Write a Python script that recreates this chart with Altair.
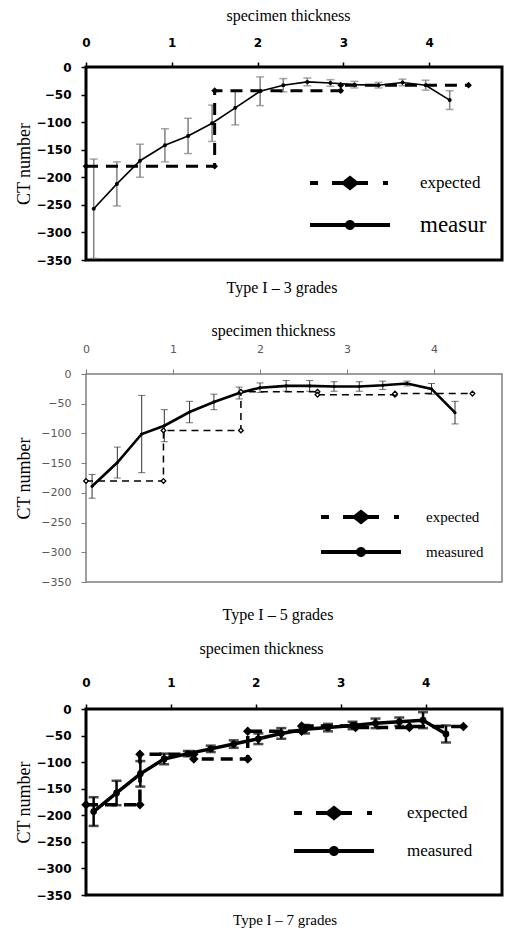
import altair as alt
import pandas as pd

# ---------------- text ----------------
CAPTIONS = ["Type I \u2013 3 grades", "Type I \u2013 5 grades", "Type I \u2013 7 grades"]
X_TITLE = "specimen thickness"
Y_TITLE = "CT number"
SERIES = ["expected", "measured"]
X_TICKS = [0, 1, 2, 3, 4]
Y_TICKS = [0, -50, -100, -150, -200, -250, -300, -350]

# ---------------- data: Type I - 3 grades ----------------
m1_x = [0.09, 0.36, 0.63, 0.92, 1.19, 1.47, 1.74, 2.03, 2.30, 2.58, 2.85, 3.13, 3.41, 3.69, 3.96, 4.24]
m1_y = [-257, -212, -170, -142, -125, -102, -74, -44, -33, -27, -29, -32, -33, -28, -33, -60]
m1_err = [90, 40, 30, 30, 32, 33, 31, 26, 12, 7, 6, 6, 5, 6, 9, 17]
e1_x = [0, 1.5, 1.5, 2.97, 2.97, 4.46]
e1_y = [-180, -180, -43, -43, -33, -33]

# ---------------- data: Type I - 5 grades ----------------
m2_x = [0.07, 0.36, 0.64, 0.90, 1.19, 1.47, 1.76, 2.00, 2.30, 2.57, 2.85, 3.14, 3.41, 3.69, 3.97, 4.24]
m2_y = [-189, -149, -101, -87, -64, -47, -32, -23, -20, -20, -21, -21, -19, -16, -25, -65]
m2_err = [20, 26, 65, 27, 18, 13, 10, 8, 9, 9, 8, 8, 7, 4, 9, 19]
e2_x = [0, 0.89, 0.89, 1.78, 1.78, 2.66, 2.66, 3.55, 3.55, 4.44]
e2_y = [-180, -180, -95, -95, -30, -30, -35, -35, -33, -33]

# ---------------- data: Type I - 7 grades ----------------
m3_x = [0.09, 0.36, 0.64, 0.92, 1.20, 1.47, 1.74, 2.03, 2.30, 2.58, 2.85, 3.14, 3.41, 3.69, 3.97, 4.24]
m3_y = [-193, -158, -122, -94, -84, -75, -66, -56, -46, -38, -35, -31, -27, -24, -21, -47]
m3_err = [27, 23, 24, 10, 5, 6, 7, 10, 10, 8, 7, 7, 9, 8, 15, 16]
e3_x = [0, 0.635, 0.635, 1.27, 1.27, 1.905, 1.905, 2.54, 2.54, 3.175, 3.175, 3.81, 3.81, 4.445]
e3_y = [-180, -180, -85, -85, -94, -94, -42, -42, -32, -32, -35, -35, -33, -33]

# legend symbols (symbol units; 1 unit = 10 px at symbolSize 400)
P_EXP = ("M-4,-0.2H-3.2V0.2H-4Z"
         "M-1.8,-0.2H-0.7L0,-0.75L0.7,-0.2H1.8V0.2H0.7L0,0.75L-0.7,0.2H-1.8Z"
         "M3.3,-0.2H3.8V0.2H3.3Z")
P_MEAS = ("M-4,-0.2H4V0.2H-4Z"
          "M0.5,0A0.5,0.5 0 1,1 -0.5,0A0.5,0.5 0 1,1 0.5,0Z")

SERIF = "Liberation Serif"
W = 416

STYLE1 = dict(xmax=4.85, h=193, frame="black", frame_w=3, tick_c="black", tick_w=1.5,
              lab_font="DejaVu Sans", lab_size=12, lab_weight="bold", lab_c="black",
              xlab_pad=13, ylab_pad=10, xt_size=16, xt_x=202, xt_y=-47, yt_size=18,
              err_c="#808080", err_w=1.5, cap=8, m_w=1.6, m_size=16, e_w=3, e_dash=[12, 8],
              e_size=45, e_filled=True,
              cap_dx=-12, cap_off=14, cap_size=16,
              leg_x=254, leg_y=106, leg_row=23,
              leg_lab="datum.label == 'measured' ? 'measur' : datum.label",
              leg_fs="datum.label == 'measured' ? 23 : 17", leg_off=60)
STYLE2 = dict(xmax=4.78, h=208, frame="#7f7f7f", frame_w=1.5, tick_c="#7f7f7f", tick_w=1,
              lab_font="DejaVu Sans", lab_size=11, lab_weight="normal", lab_c="#595959",
              xlab_pad=15, ylab_pad=10, xt_size=16, xt_x=187, xt_y=-39, yt_size=18,
              err_c="#333333", err_w=1, cap=7, m_w=2.6, m_size=10, e_w=1.5, e_dash=[7, 5],
              e_size=22, e_filled=False,
              cap_dx=-16, cap_off=20, cap_size=16,
              leg_x=265, leg_y=133, leg_row=17, leg_lab="datum.label",
              leg_fs="15", leg_off=55)
STYLE3 = dict(xmax=4.9, h=186, frame="black", frame_w=3, tick_c="black", tick_w=1.5,
              lab_font="DejaVu Sans", lab_size=12, lab_weight="bold", lab_c="black",
              xlab_pad=15, ylab_pad=10, xt_size=16, xt_x=175, xt_y=-56, yt_size=18,
              err_c="black", err_w=2.5, cap=10, m_w=3.5, m_size=45, e_w=3.5, e_dash=[12, 7],
              e_size=90, e_filled=True,
              cap_dx=-9, cap_off=12, cap_size=15,
              leg_x=238, leg_y=94, leg_row=20, leg_lab="datum.label",
              leg_fs="17", leg_off=63)


def panel(mx, my, merr, ex, ey, caption, s):
    dm = pd.DataFrame({"x": mx, "y": my,
                       "lo": [a - b for a, b in zip(my, merr)],
                       "hi": [a + b for a, b in zip(my, merr)]})
    dm["series"] = "measured"
    dm["i"] = range(len(dm))
    de = pd.DataFrame({"x": ex, "y": ey})
    de["series"] = "expected"
    de["i"] = range(len(de))

    xs = alt.Scale(domain=[0, s["xmax"]], nice=False, zero=False)
    ys = alt.Scale(domain=[-350, 0], nice=False)
    xaxis = alt.Axis(orient="top", values=X_TICKS, grid=False, domain=False,
                     ticks=True, tickSize=5, tickColor=s["tick_c"], tickWidth=s["tick_w"],
                     labelFont=s["lab_font"], labelFontSize=s["lab_size"],
                     labelFontWeight=s["lab_weight"], labelColor=s["lab_c"],
                     labelPadding=s["xlab_pad"], labelFlush=False,
                     title=X_TITLE, titleFont=SERIF,
                     titleFontSize=s["xt_size"], titleFontWeight="normal", titleColor="black",
                     titleX=s["xt_x"], titleY=s["xt_y"], titleAlign="center",
                     titleBaseline="alphabetic")
    yaxis = alt.Axis(values=Y_TICKS, grid=False, domain=False,
                     ticks=True, tickSize=5, tickColor=s["tick_c"], tickWidth=s["tick_w"],
                     labelFont=s["lab_font"], labelFontSize=s["lab_size"],
                     labelFontWeight=s["lab_weight"], labelColor=s["lab_c"],
                     labelPadding=s["ylab_pad"], labelFlush=False,
                     title=Y_TITLE, titleFont=SERIF,
                     titleFontSize=s["yt_size"], titleFontWeight="normal", titleColor="black",
                     titleX=-53, titleY=s["h"] / 2, titleAngle=270, titleAlign="center",
                     titleBaseline="bottom")
    X = alt.X("x:Q", scale=xs, axis=xaxis)
    Y = alt.Y("y:Q", scale=ys, axis=yaxis)

    base_m = alt.Chart(dm)
    base_e = alt.Chart(de)

    err = base_m.mark_rule(color=s["err_c"], strokeWidth=s["err_w"], clip=True).encode(
        x=X, y=alt.Y("lo:Q", scale=ys, axis=yaxis), y2="hi:Q")
    cap_lo = base_m.mark_tick(orient="horizontal", color=s["err_c"], size=s["cap"],
                              thickness=s["err_w"], clip=True).encode(
        x=X, y=alt.Y("lo:Q", scale=ys, axis=yaxis))
    cap_hi = base_m.mark_tick(orient="horizontal", color=s["err_c"], size=s["cap"],
                              thickness=s["err_w"], clip=True).encode(
        x=X, y=alt.Y("hi:Q", scale=ys, axis=yaxis))
    e_line = base_e.mark_line(color="black", strokeWidth=s["e_w"], strokeDash=s["e_dash"],
                              clip=True).encode(x=X, y=Y, order="i:Q")
    m_line = base_m.mark_line(color="black", strokeWidth=s["m_w"], clip=True).encode(
        x=X, y=Y, order="i:Q")
    if s["e_filled"]:
        e_pts = base_e.mark_point(shape="diamond", filled=True, color="black",
                                  size=s["e_size"], opacity=1).encode(x=X, y=Y)
    else:
        e_pts = base_e.mark_point(shape="diamond", filled=False, fill="white",
                                  stroke="black", strokeWidth=1.3, size=s["e_size"],
                                  opacity=1, fillOpacity=1).encode(x=X, y=Y)
    m_pts = base_m.mark_circle(color="black", size=s["m_size"], opacity=1).encode(x=X, y=Y)

    leg = alt.Chart(pd.concat([de, dm[["x", "y", "series", "i"]]])).mark_point(
        filled=True, color="black", opacity=0).encode(
        x=X, y=Y,
        shape=alt.Shape("series:N",
                        scale=alt.Scale(domain=SERIES, range=[P_EXP, P_MEAS]),
                        legend=alt.Legend(title=None, orient="none",
                                          legendX=s["leg_x"], legendY=s["leg_y"],
                                          symbolSize=400, symbolOpacity=1,
                                          symbolFillColor="black", symbolStrokeWidth=0,
                                          symbolStrokeColor="black",
                                          labelFont=SERIF,
                                          labelFontSize=alt.ExprRef(s["leg_fs"]),
                                          labelColor="black", labelOffset=s["leg_off"],
                                          labelExpr=s["leg_lab"], rowPadding=s["leg_row"],
                                          labelLimit=300, padding=0)))

    return alt.layer(err, cap_lo, cap_hi, e_line, m_line, e_pts, m_pts, leg).properties(
        width=W, height=s["h"],
        view=alt.ViewBackground(stroke=s["frame"], strokeWidth=s["frame_w"], fill="white"),
        title=alt.Title(caption, orient="bottom", font=SERIF, fontSize=s["cap_size"],
                        fontWeight="normal", color="black", offset=s["cap_off"],
                        dx=s["cap_dx"], anchor="middle", frame="group"))


p1 = panel(m1_x, m1_y, m1_err, e1_x, e1_y, CAPTIONS[0], STYLE1)
p2 = panel(m2_x, m2_y, m2_err, e2_x, e2_y, CAPTIONS[1], STYLE2)
p3 = panel(m3_x, m3_y, m3_err, e3_x, e3_y, CAPTIONS[2], STYLE3)

lower = alt.vconcat(p2, p3, spacing=14).resolve_scale(shape="independent", x="independent", y="independent")
chart = alt.vconcat(p1, lower, spacing=23).resolve_scale(
    shape="independent", x="independent", y="independent").properties(
    padding={"left": 5, "top": -3, "right": 0, "bottom": 0}, background="white")

chart.save("out.html", embed_options={"renderer": "svg", "actions": False})
